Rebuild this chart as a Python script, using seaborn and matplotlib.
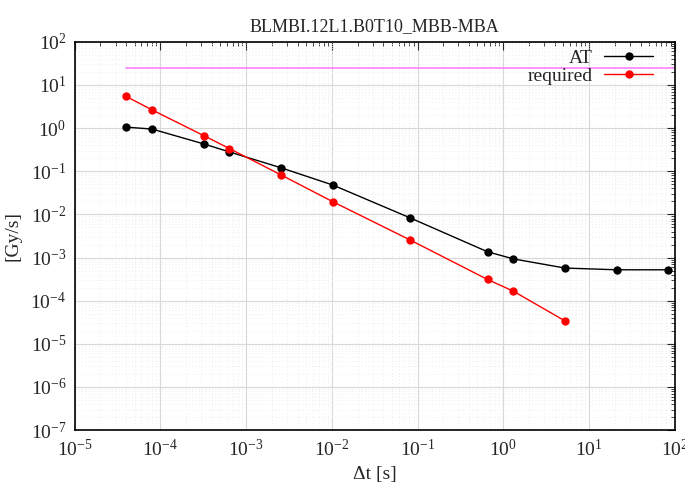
import numpy as np
import pandas as pd
import matplotlib
matplotlib.use("Agg")
import matplotlib.pyplot as plt
import seaborn as sns
from matplotlib.ticker import LogLocator, NullFormatter

sns.set_style("white")
plt.rcParams['font.family'] = ['Liberation Serif', 'DejaVu Serif']
plt.rcParams['mathtext.fontset'] = 'stix'

# running sum integration times [s]
dt = [4e-5, 8e-5, 3.2e-4, 6.4e-4, 2.56e-3, 1.024e-2, 8.19e-2,
      0.655, 1.31, 5.24, 20.97, 83.89]
# applied thresholds
at_vals = [1.05, 0.95, 0.43, 0.28, 0.12, 0.048, 0.0083,
           1.36e-3, 9.3e-4, 5.7e-4, 5.2e-4, 5.2e-4]
# required thresholds (first 10 running sums)
req_vals = [5.4, 2.64, 0.67, 0.335, 0.082, 0.0197, 2.55e-3,
            3.1e-4, 1.66e-4, 3.4e-5]
limit_x = [4e-5, 100]
limit_y = [25, 25]

df = pd.concat([
    pd.DataFrame({'dt': dt, 'val': at_vals, 'series': 'AT'}),
    pd.DataFrame({'dt': dt[:len(req_vals)], 'val': req_vals, 'series': 'required'}),
])

fig = plt.figure(figsize=(6.85, 4.86), dpi=100)
ax = fig.add_axes([0.109, 0.115, 0.876, 0.799])

ax.plot(limit_x, limit_y, color='#ff80ff', lw=1.2, zorder=1)
sns.lineplot(data=df, x='dt', y='val', hue='series',
             palette={'AT': 'black', 'required': 'red'},
             marker='o', markersize=6, markeredgewidth=0, lw=1,
             ax=ax, zorder=3)

ax.set_xscale('log')
ax.set_yscale('log')
ax.set_xlim(1e-5, 1e2)
ax.set_ylim(1e-7, 1e2)

ax.xaxis.set_major_locator(LogLocator(base=10, numticks=20))
ax.yaxis.set_major_locator(LogLocator(base=10, numticks=20))
ax.xaxis.set_minor_locator(LogLocator(base=10, subs=np.arange(2, 10), numticks=20))
ax.yaxis.set_minor_locator(LogLocator(base=10, subs=np.arange(2, 10), numticks=20))
ax.xaxis.set_minor_formatter(NullFormatter())
ax.yaxis.set_minor_formatter(NullFormatter())

ax.grid(True, which='major', color='#d8d8d8', lw=0.8)
ax.grid(True, which='minor', color='#e8e8e8', lw=0.6, ls=(0, (1, 3)))
ax.tick_params(which='both', direction='in', top=True, right=True, labelsize=14)
ax.tick_params(axis='x', which='major', pad=6)
ax.tick_params(axis='y', which='major', pad=6)
ax.tick_params(which='major', length=6, width=0.8)
ax.tick_params(which='minor', length=3, width=0.6)
for s in ax.spines.values():
    s.set_color('black')
    s.set_linewidth(1.2)

ax.set_xlabel('Δt [s]', fontsize=14, va='center')
ax.xaxis.set_label_coords(0.5, -0.114)
ax.set_ylabel('[Gy/s]', fontsize=14, va='center')
ax.yaxis.set_label_coords(-0.102, 0.5)
ax.set_title('BLMBI.12L1.B0T10_MBB-MBA', fontsize=13, pad=8)

leg = ax.legend(loc='upper right', bbox_to_anchor=(0.98, 1.005), frameon=False,
                markerfirst=False, fontsize=14, handlelength=2.5,
                borderaxespad=0.1, labelspacing=0.0, handletextpad=0.6)

fig.savefig('out.png', dpi=100)
